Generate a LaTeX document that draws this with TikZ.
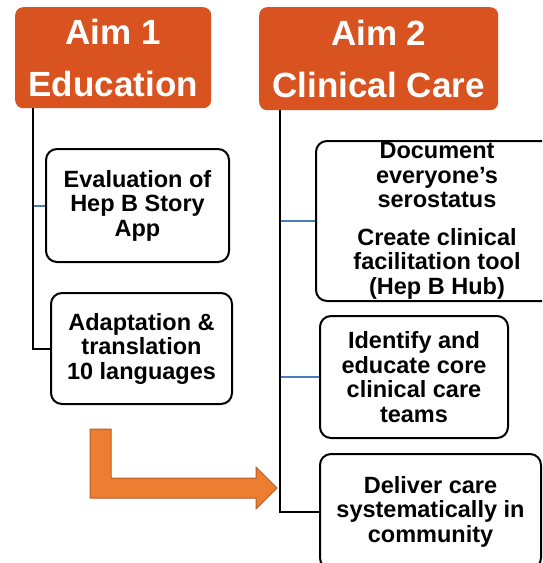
\documentclass[tikz,border=0pt]{standalone}
\usepackage{fontspec}
\setmainfont{Liberation Sans}
\usetikzlibrary{positioning, calc}
\definecolor{aimorange}{RGB}{216,83,31}
\definecolor{arroworange}{RGB}{237,125,49}
\definecolor{arrowedge}{RGB}{183,92,38}
\definecolor{tickblue}{RGB}{74,126,187}

\begin{document}
\begin{tikzpicture}[x=1pt, y=-1pt,
    aim_box/.style={rectangle, rounded corners=8pt, fill=aimorange, text=white, font=\fontsize{35}{52}\selectfont\bfseries, align=center, inner sep=0pt},
    task_box/.style={rectangle, rounded corners=11pt, draw=black, line width=2pt, fill=white, font=\fontsize{23.5}{24.5}\selectfont\bfseries, align=center, inner sep=0pt},
    trunk_line/.style={draw=black, line width=2pt},
    tick_line/.style={draw=tickblue, line width=2pt}
]
    \clip (0,0) rectangle (542,563);

    % Aim headers
    \node[aim_box, minimum width=196pt, minimum height=101pt, anchor=north west] (aim_edu) at (15,7) {Aim 1\\Education};
    \node[aim_box, minimum width=239pt, minimum height=103pt, anchor=north west] (aim_care) at (259,7) {Aim 2\\Clinical Care};

    % Education tasks
    \node[task_box, minimum width=183pt, minimum height=113pt, anchor=north west] (eval_app) at (45,148) {Evaluation of\\Hep B Story\\App};
    \node[task_box, minimum width=181pt, minimum height=111pt, anchor=north west] (adapt_lang) at (50,292) {Adaptation \&\\translation\\10 languages};

    % Clinical care tasks
    \node[task_box, minimum width=242pt, minimum height=160pt, anchor=north west] (doc_sero) at (315,140) {Document\\everyone’s\\serostatus\\[13pt]Create clinical\\facilitation tool\\(Hep B Hub)};
    \node[task_box, minimum width=188pt, minimum height=122pt, anchor=north west] (core_teams) at (319,315) {Identify and\\educate core\\clinical care\\teams};
    \node[task_box, minimum width=221pt, minimum height=115pt, anchor=north west] (deliver_care) at (319,453) {Deliver care\\systematically in\\community};

    % Trunk lines from the aims
    \coordinate (trunk_edu) at ([xshift=18pt]aim_edu.south west);
    \coordinate (trunk_care) at ([xshift=21pt]aim_care.south west);
    \draw[tick_line] (eval_app.west) -- (eval_app.west -| trunk_edu);
    \draw[tick_line] (doc_sero.west) -- (doc_sero.west -| trunk_care);
    \draw[tick_line] (core_teams.west) -- (core_teams.west -| trunk_care);
    \draw[trunk_line] (trunk_edu) |- (adapt_lang.west);
    \draw[trunk_line] (trunk_care) |- (deliver_care.west);

    % Bent arrow from Aim 1 to Aim 2
    \filldraw[fill=arroworange, draw=arrowedge, line width=1pt]
        (90,429) -- (111,429) -- (111,478) -- (256,478) -- (256,467)
        -- (277,488) -- (256,509) -- (256,498) -- (90,498) -- cycle;

\end{tikzpicture}
\end{document}
